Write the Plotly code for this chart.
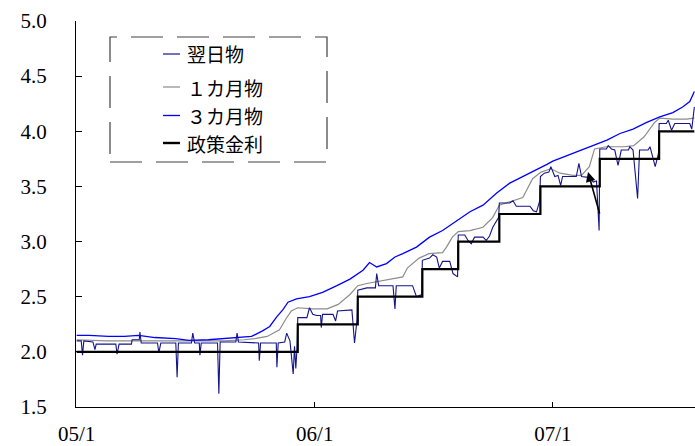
import plotly.graph_objects as go

# ---------------- data ----------------
tick_dates = ["2005-01-01", "2006-01-01", "2007-01-01"]
tick_labels = ["05/1", "06/1", "07/1"]
y_ticks = [1.5, 2.0, 2.5, 3.0, 3.5, 4.0, 4.5, 5.0]
y_tick_labels = ["1.5", "2.0", "2.5", "3.0", "3.5", "4.0", "4.5", "5.0"]

legend_names = ["翌日物", "１カ月物", "３カ月物", "政策金利"]

# overnight (翌日物)
on_dates = [
    "2005-01-01", "2005-01-08", "2005-01-10", "2005-01-12", "2005-01-26", "2005-01-29",
    "2005-01-31", "2005-03-02", "2005-03-04", "2005-03-07", "2005-03-26", "2005-03-27",
    "2005-04-07", "2005-04-08", "2005-04-10", "2005-05-05", "2005-05-07", "2005-05-10",
    "2005-06-02", "2005-06-04", "2005-06-06", "2005-06-26", "2005-06-28", "2005-07-01",
    "2005-07-08", "2005-07-09", "2005-07-11", "2005-08-05", "2005-08-07", "2005-08-09",
    "2005-09-02", "2005-09-04", "2005-09-06", "2005-10-07", "2005-10-08", "2005-10-10",
    "2005-11-03", "2005-11-04", "2005-11-06", "2005-11-16", "2005-11-19", "2005-11-24",
    "2005-11-29", "2005-12-01", "2005-12-03", "2005-12-05", "2005-12-06", "2005-12-20",
    "2005-12-24", "2005-12-29", "2006-01-04", "2006-01-10", "2006-01-11", "2006-01-13",
    "2006-01-29", "2006-02-02", "2006-02-05", "2006-02-27", "2006-03-03", "2006-03-07",
    "2006-03-08", "2006-03-22", "2006-04-04", "2006-04-06", "2006-04-09", "2006-05-01",
    "2006-05-04", "2006-05-06", "2006-05-31", "2006-06-06", "2006-06-14", "2006-06-15",
    "2006-06-26", "2006-07-01", "2006-07-07", "2006-07-11", "2006-07-16", "2006-07-27",
    "2006-08-01", "2006-08-08", "2006-08-09", "2006-08-19", "2006-08-24", "2006-08-29",
    "2006-09-03", "2006-09-16", "2006-09-21", "2006-09-26", "2006-10-01", "2006-10-10",
    "2006-10-11", "2006-10-27", "2006-11-01", "2006-11-06", "2006-11-27", "2006-12-02",
    "2006-12-07", "2006-12-12", "2006-12-13", "2006-12-19", "2006-12-26", "2006-12-29",
    "2007-01-04", "2007-01-09", "2007-01-13", "2007-01-16", "2007-02-06", "2007-02-10",
    "2007-02-14", "2007-02-27", "2007-03-04", "2007-03-09", "2007-03-13", "2007-03-14",
    "2007-03-24", "2007-03-27", "2007-04-01", "2007-04-06", "2007-04-11", "2007-04-16",
    "2007-04-27", "2007-04-29", "2007-05-04", "2007-05-11", "2007-05-14", "2007-05-27",
    "2007-05-30", "2007-06-07", "2007-06-12", "2007-06-13", "2007-06-24", "2007-06-27",
    "2007-07-02", "2007-07-07", "2007-07-30", "2007-08-02", "2007-08-06",
]
on_vals = [
    2.10, 2.10, 1.97, 2.10, 2.09, 2.02,
    2.07, 2.07, 1.98, 2.07, 2.07, 2.11,
    2.11, 2.18, 2.08, 2.08, 1.99, 2.08,
    2.08, 1.77, 2.08, 2.08, 2.17, 2.08,
    2.08, 1.97, 2.08, 2.08, 1.62, 2.09,
    2.09, 2.17, 2.09, 2.08, 1.92, 2.08,
    2.08, 1.86, 2.08, 2.09, 2.17, 2.10,
    1.80, 2.05, 1.85, 2.05, 2.31, 2.31,
    2.40, 2.34, 2.33, 2.33, 2.22, 2.34,
    2.34, 2.28, 2.37, 2.38, 2.08, 2.30,
    2.56, 2.58, 2.58, 2.71, 2.60, 2.60,
    2.39, 2.60, 2.60, 2.50, 2.52, 2.83,
    2.85, 2.88, 2.86, 2.76, 2.82, 2.82,
    2.71, 2.68, 3.06, 3.06, 3.01, 2.98,
    3.04, 3.04, 3.01, 3.05, 3.13, 3.22,
    3.35, 3.35, 3.37, 3.32, 3.32, 3.28,
    3.27, 3.37, 3.59, 3.62, 3.63, 3.68,
    3.59, 3.60, 3.51, 3.59, 3.59, 3.71,
    3.59, 3.58, 3.54, 3.55, 3.10, 3.84,
    3.84, 3.87, 3.84, 3.83, 3.69, 3.83,
    3.83, 3.86, 3.83, 3.39, 3.83, 3.83,
    3.86, 3.68, 3.80, 4.07, 4.07, 4.10,
    4.01, 4.07, 4.07, 4.02, 4.22,
]

# 1 month (１カ月物)
m1_dates = [
    "2005-01-01", "2005-02-15", "2005-04-01", "2005-05-15", "2005-07-01", "2005-08-15",
    "2005-09-15", "2005-10-01", "2005-10-20", "2005-11-08", "2005-11-18", "2005-11-26",
    "2005-12-06", "2005-12-29", "2006-01-20", "2006-02-06", "2006-02-24", "2006-03-08",
    "2006-03-22", "2006-04-10", "2006-04-28", "2006-05-16", "2006-05-23", "2006-05-31",
    "2006-06-10", "2006-06-25", "2006-07-16", "2006-07-22", "2006-07-31", "2006-08-09",
    "2006-08-27", "2006-09-16", "2006-10-01", "2006-10-11", "2006-10-27", "2006-11-16",
    "2006-12-01", "2006-12-14", "2006-12-29", "2007-01-12", "2007-02-01", "2007-02-14",
    "2007-02-26", "2007-03-06", "2007-03-24", "2007-04-20", "2007-05-05", "2007-05-21",
    "2007-06-06", "2007-06-14", "2007-07-04", "2007-07-25", "2007-08-06",
]
m1_vals = [
    2.11, 2.10, 2.10, 2.10, 2.10, 2.10,
    2.11, 2.12, 2.14, 2.20, 2.30, 2.37,
    2.40, 2.39, 2.39, 2.43, 2.52, 2.60,
    2.62, 2.64, 2.66, 2.68, 2.76, 2.80,
    2.85, 2.89, 2.90, 2.95, 3.04, 3.09,
    3.10, 3.13, 3.22, 3.33, 3.36, 3.40,
    3.57, 3.63, 3.66, 3.62, 3.60, 3.60,
    3.68, 3.84, 3.86, 3.86, 3.87, 3.95,
    4.08, 4.12, 4.11, 4.11, 4.12,
]

# 3 month (３カ月物)
m3_dates = [
    "2005-01-01", "2005-01-20", "2005-02-19", "2005-03-15", "2005-04-06", "2005-05-01",
    "2005-06-02", "2005-06-22", "2005-07-22", "2005-08-15", "2005-09-02", "2005-09-26",
    "2005-10-13", "2005-10-24", "2005-11-04", "2005-11-13", "2005-11-21", "2005-12-04",
    "2005-12-24", "2006-01-13", "2006-02-04", "2006-02-24", "2006-03-16", "2006-03-26",
    "2006-04-06", "2006-04-21", "2006-05-04", "2006-05-16", "2006-06-06", "2006-06-26",
    "2006-07-16", "2006-08-07", "2006-08-27", "2006-09-16", "2006-10-07", "2006-10-27",
    "2006-11-16", "2006-12-08", "2006-12-23", "2007-01-01", "2007-01-23", "2007-02-11",
    "2007-03-03", "2007-03-25", "2007-04-14", "2007-05-04", "2007-05-25", "2007-06-14",
    "2007-07-04", "2007-07-19", "2007-07-30", "2007-08-06",
]
m3_vals = [
    2.15, 2.15, 2.14, 2.14, 2.15, 2.13,
    2.12, 2.105, 2.11, 2.12, 2.13, 2.14,
    2.19, 2.23, 2.32, 2.38, 2.45, 2.48,
    2.50, 2.54, 2.60, 2.66, 2.74, 2.81,
    2.77, 2.80, 2.86, 2.89, 2.95, 3.04,
    3.10, 3.19, 3.27, 3.33, 3.44, 3.53,
    3.59, 3.65, 3.70, 3.73, 3.78, 3.83,
    3.87, 3.92, 3.98, 4.02, 4.08, 4.13,
    4.17, 4.22, 4.27, 4.36,
]

# policy rate (政策金利)
pol_dates = [
    "2005-01-01", "2005-12-06", "2006-03-08", "2006-06-15", "2006-08-09",
    "2006-10-11", "2006-12-13", "2007-03-14", "2007-06-13", "2007-08-06",
]
pol_vals = [2.00, 2.25, 2.50, 2.75, 3.00, 3.25, 3.50, 3.75, 4.00, 4.00]

# ---------------- styles ----------------
C_ON = "#14148c"
C_M1 = "#8c8c8c"
C_M3 = "#0000ff"
C_POL = "#000000"
NUM_FONT = "Liberation Serif"
JP_FONT = "Noto Sans CJK JP"

fig = go.Figure()
fig.add_trace(go.Scatter(x=m1_dates, y=m1_vals, mode="lines", line=dict(color=C_M1, width=1.2),
                         name=legend_names[1], showlegend=False))
fig.add_trace(go.Scatter(x=m3_dates, y=m3_vals, mode="lines", line=dict(color=C_M3, width=1.3),
                         name=legend_names[2], showlegend=False))
fig.add_trace(go.Scatter(x=on_dates, y=on_vals, mode="lines", line=dict(color=C_ON, width=1.1),
                         name=legend_names[0], showlegend=False))
fig.add_trace(go.Scatter(x=pol_dates, y=pol_vals, mode="lines", line=dict(color=C_POL, width=2.2, shape="hv"),
                         name=legend_names[3], showlegend=False))

# ---------------- layout geometry (page pixels; body margin removed below) ----------------
W, H = 695, 446
PAGE_L, PAGE_T, PAGE_B = 76, 21, 407   # plot area edges in page pixels
ML, MT, MB, MR = PAGE_L, PAGE_T, H - PAGE_B, 0
PW, PH = W - ML - MR, H - MT - MB


def px(xp):
    return (xp - PAGE_L) / PW


def py(yp):
    return (PAGE_B - yp) / PH


shapes = [dict(type="rect", xref="paper", yref="paper",
               x0=px(110), x1=px(327), y0=py(162), y1=py(37),
               line=dict(color="#404040", width=1.2, dash="32px,14px"))]
annotations = []
rows_y = [54, 87, 115.5, 143]
leg_colors = [C_ON, C_M1, C_M3, C_POL]
leg_widths = [1.2, 1.2, 1.3, 2.4]
for name, yy, col, lw in zip(legend_names, rows_y, leg_colors, leg_widths):
    shapes.append(dict(type="line", xref="paper", yref="paper",
                       x0=px(163), x1=px(180), y0=py(yy), y1=py(yy),
                       line=dict(color=col, width=lw)))
    annotations.append(dict(xref="paper", yref="paper", x=px(185), y=py(yy),
                            text=name, showarrow=False, xanchor="left", yanchor="middle",
                            font=dict(family=JP_FONT, size=19, color="#000000")))

# arrow pointing at the rate just before the March 2007 hike
annotations.append(dict(x="2007-02-24", y=3.63, xref="x", yref="y", text="",
                        showarrow=True, ax=12, ay=43, arrowhead=2, arrowsize=1.2,
                        arrowwidth=1.6, arrowcolor="#000000", standoff=0))

fig.update_layout(
    width=W, height=H,
    margin=dict(l=ML, r=MR, t=MT, b=MB, pad=0, autoexpand=False),
    paper_bgcolor="white", plot_bgcolor="white",
    shapes=shapes, annotations=annotations,
    showlegend=False,
    xaxis=dict(type="date", range=["2004-12-31", "2007-08-07"], automargin=False,
               tickvals=tick_dates, ticktext=tick_labels,
               ticks="inside", ticklen=5, tickcolor="#000", tickwidth=1,
               showline=True, linecolor="#000", linewidth=1.2,
               showgrid=False, zeroline=False, ticklabelstandoff=8,
               tickfont=dict(family=NUM_FONT, size=21, color="#000")),
    yaxis=dict(range=[1.5, 5.0], tickvals=y_ticks, ticktext=y_tick_labels, automargin=False,
               ticks="inside", ticklen=6, tickcolor="#000", tickwidth=1,
               showline=True, linecolor="#000", linewidth=1.2,
               showgrid=False, zeroline=False, ticklabelstandoff=24,
               tickfont=dict(family=NUM_FONT, size=21, color="#000")),
)

fig.write_html(
    "out.html",
    config={"displayModeBar": False},
    post_script="document.body.style.margin='0px';document.body.style.overflow='hidden';",
)
